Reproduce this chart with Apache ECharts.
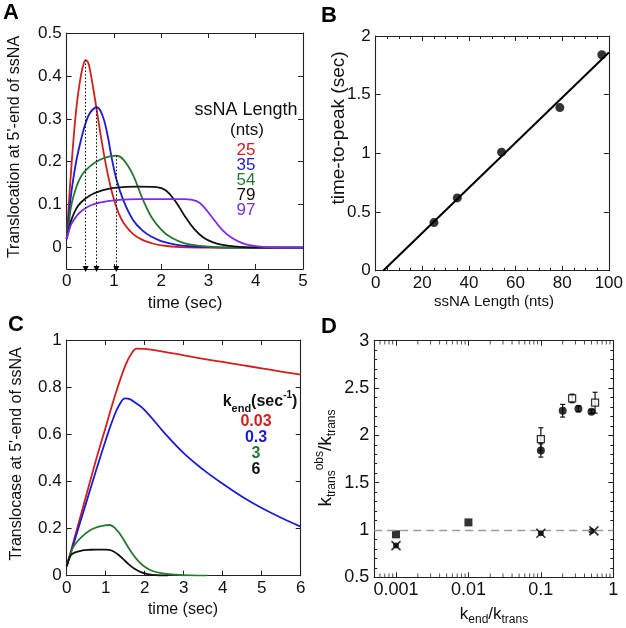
<!DOCTYPE html>
<html><head><meta charset="utf-8">
<script src="https://cdn.jsdelivr.net/npm/echarts@6/dist/echarts.min.js"></script>
<style>html,body{margin:0;padding:0;background:#fff}#c{width:626px;height:628px}</style>
</head><body><div id="c"></div>
<script>
// ---------------- Panel A data ----------------
const aLengths = ['25', '35', '54', '79', '97'];
const a25 = [[0,0.02],[0.05,0.11],[0.1,0.19],[0.15,0.26],[0.2,0.32],[0.25,0.365],[0.3,0.40],[0.35,0.425],[0.4,0.437],[0.45,0.432],[0.5,0.41],[0.6,0.345],[0.7,0.275],[0.8,0.21],[0.9,0.155],[1.0,0.112],[1.1,0.08],[1.2,0.058],[1.4,0.032],[1.6,0.018],[1.8,0.01],[2.0,0.005],[2.4,0.001],[3,0],[5,0]];
const a35 = [[0,0.02],[0.05,0.08],[0.1,0.13],[0.2,0.20],[0.3,0.25],[0.4,0.29],[0.5,0.315],[0.64,0.327],[0.75,0.31],[0.85,0.27],[0.95,0.21],[1.05,0.16],[1.2,0.11],[1.4,0.065],[1.6,0.04],[1.8,0.025],[2.0,0.015],[2.3,0.007],[2.6,0.003],[3,0.001],[3.5,0],[5,0]];
const a54 = [[0,0.02],[0.05,0.06],[0.1,0.10],[0.2,0.14],[0.3,0.165],[0.4,0.18],[0.6,0.198],[0.8,0.209],[1.05,0.214],[1.2,0.205],[1.4,0.17],[1.6,0.115],[1.8,0.07],[2.0,0.042],[2.2,0.024],[2.5,0.01],[3.0,0.002],[3.5,0],[5,0]];
const a79 = [[0,0.02],[0.05,0.045],[0.1,0.065],[0.2,0.09],[0.3,0.105],[0.5,0.122],[0.75,0.133],[1.0,0.139],[1.5,0.142],[1.9,0.141],[2.1,0.133],[2.3,0.108],[2.5,0.073],[2.7,0.043],[2.9,0.023],[3.1,0.012],[3.3,0.006],[3.6,0.002],[4,0],[5,0]];
const a97 = [[0,0.02],[0.05,0.04],[0.1,0.055],[0.2,0.072],[0.3,0.084],[0.5,0.098],[0.75,0.106],[1.0,0.110],[1.5,0.113],[2.0,0.113],[2.5,0.113],[2.75,0.108],[2.9,0.095],[3.1,0.067],[3.3,0.04],[3.5,0.022],[3.7,0.011],[3.9,0.005],[4.2,0.001],[4.5,0],[5,0]];
const aPeakT = [0.40, 0.63, 1.05];
const aPeakV = [0.437, 0.327, 0.214];

// ---------------- Panel B data ----------------
const bLength = [25, 35, 54, 79, 97];
const bPeak = [0.41, 0.62, 1.01, 1.39, 1.84];
const bFitX = [3.2, 100];
const bFitY = [0, 1.86];

// ---------------- Panel C data ----------------
const cKend = ['0.03', '0.3', '3', '6'];
const c003 = [[0,0.04],[0.25,0.19],[0.5,0.34],[0.75,0.49],[1.0,0.63],[1.25,0.77],[1.5,0.89],[1.65,0.94],[1.8,0.963],[2.0,0.962],[2.5,0.95],[3,0.935],[3.5,0.92],[4,0.907],[4.5,0.893],[5,0.88],[5.5,0.866],[6,0.853]];
const c03 = [[0,0.04],[0.25,0.175],[0.5,0.31],[0.75,0.445],[1.0,0.575],[1.2,0.67],[1.35,0.725],[1.5,0.752],[1.6,0.75],[1.75,0.735],[2.0,0.703],[2.5,0.607],[3,0.52],[3.5,0.45],[4,0.39],[4.5,0.335],[5,0.287],[5.5,0.246],[6,0.208]];
const c3 = [[0,0.04],[0.1,0.095],[0.2,0.13],[0.4,0.167],[0.6,0.193],[0.8,0.207],[1.0,0.214],[1.1,0.215],[1.25,0.2],[1.4,0.168],[1.55,0.128],[1.7,0.09],[1.85,0.06],[2.0,0.038],[2.2,0.02],[2.5,0.009],[2.8,0.004],[3.2,0.001],[3.6,0]];
const c6 = [[0,0.04],[0.1,0.085],[0.2,0.098],[0.4,0.107],[0.6,0.11],[0.8,0.111],[1.0,0.111],[1.15,0.107],[1.3,0.092],[1.45,0.07],[1.6,0.047],[1.75,0.028],[1.9,0.015],[2.1,0.006],[2.3,0.002],[2.6,0]];

// ---------------- Panel D data ----------------
const dCircX = [0.1, 0.2, 0.33, 0.5];
const dCircY = [1.84, 2.26, 2.28, 2.25];
const dCircErr = [0.07, 0.067, 0.03, 0.02];
const dOpenX = [0.1, 0.27, 0.56];
const dOpenY = [1.96, 2.39, 2.345];
const dOpenErr = [0.12, 0.045, 0.11];
const dFillSqX = [0.001, 0.01];
const dFillSqY = [0.954, 1.08];
const dCrossX = [0.001, 0.1, 0.54];
const dCrossY = [0.835, 0.965, 0.99];
const dDotX = [0.001, 0.1, 0.5];
const dDotY = [0.835, 0.965, 0.99];
const dRef = 1;

// ---------------- styling ----------------
const FONT = "'Liberation Sans', Arial, Helvetica, sans-serif";
const AX = '#222222';
const RED = '#d0201e', BLUE = '#1b1bd2', GREEN = '#25782e', BLACK = '#111111', PURPLE = '#7c2de3';

function axPair(kind, gi, cfg) {
  const base = {
    gridIndex: gi, type: cfg.type || 'value', min: cfg.min, max: cfg.max,
    splitNumber: cfg.split || 5,
    splitLine: {show: false},
    axisLine: {show: true, onZero: false, lineStyle: {color: AX, width: 1.1}},
    axisTick: {show: true, inside: true, length: 5, lineStyle: {color: AX, width: 1}},
    minorTick: cfg.minor ? {show: true, splitNumber: cfg.minor, length: 3, lineStyle: {color: AX, width: 1}} : {show: false},
    minorSplitLine: {show: false}
  };
  if (cfg.interval) base.interval = cfg.interval;
  if (cfg.type === 'log') base.logBase = 10;
  const lab = {show: true, fontSize: cfg.fs, color: '#111', fontFamily: FONT, margin: cfg.margin,
    showMinLabel: cfg.showMin !== false, showMaxLabel: true};
  if (cfg.fmt) lab.formatter = cfg.fmt;
  const p = kind === 'x' ? ['bottom', 'top'] : ['left', 'right'];
  return [
    Object.assign({}, base, {position: p[0], axisLabel: lab}),
    Object.assign({}, base, {position: p[1], axisLabel: {show: false}})
  ];
}

const xAxis = [].concat(
  axPair('x', 0, {min: 0, max: 5, interval: 1, fs: 17, margin: 4}),
  axPair('x', 1, {min: 0, max: 100, interval: 20, fs: 17, margin: 4, minor: 4}),
  axPair('x', 2, {min: 0, max: 6, interval: 1, fs: 17, margin: 4}),
  axPair('x', 3, {type: 'log', min: 0.0005, max: 1, fs: 18, margin: 4, showMin: false,
    fmt: v => (v >= 0.00099 ? String(parseFloat(Number(v).toPrecision(2))) : '')})
);
const yAxis = [].concat(
  axPair('y', 0, {min: -0.05, max: 0.5, split: 5, fs: 17, margin: 5, showMin: false}),
  axPair('y', 1, {min: 0, max: 2, interval: 0.5, fs: 17, margin: 5}),
  axPair('y', 2, {min: 0, max: 1, interval: 0.2, fs: 17, margin: 5}),
  axPair('y', 3, {min: 0.5, max: 3, interval: 0.5, fs: 18, margin: 5, minor: 5})
);

function curve(data, color, gi) {
  return {type: 'line', xAxisIndex: gi * 2, yAxisIndex: gi * 2, data: data, showSymbol: false,
    smooth: 0.4, lineStyle: {color: color, width: 1.8}, silent: true, z: 3};
}

// log-axis minor tick positions for panel D (2..9 x 10^k)
const dMinorX = [];
for (let e = -4; e <= -1; e++) {
  for (let m = 2; m <= 9; m++) {
    const v = m * Math.pow(10, e);
    if (v > 0.0005 && v < 1) dMinorX.push(v);
  }
}
function minorTickSeries(yVal) {
  return {type: 'scatter', xAxisIndex: 6, yAxisIndex: 6, silent: true, z: 10,
    data: dMinorX.map(v => [v, yVal]), symbol: 'rect', symbolSize: [1, 4],
    itemStyle: {color: AX}};
}

const errData = dCircX.map((x, i) => [x, dCircY[i] - dCircErr[i], dCircY[i] + dCircErr[i]])
  .concat(dOpenX.map((x, i) => [x, dOpenY[i] - dOpenErr[i], dOpenY[i] + dOpenErr[i]]));

const series = [
  curve(a25, RED, 0), curve(a35, BLUE, 0), curve(a54, GREEN, 0), curve(a79, BLACK, 0), curve(a97, PURPLE, 0),
  {type: 'line', xAxisIndex: 0, yAxisIndex: 0, data: [], silent: true,
    markLine: {silent: true, symbol: ['none', 'triangle'], symbolSize: 6, animation: false,
      label: {show: false}, lineStyle: {type: [1.5, 2], color: '#000', width: 1},
      data: aPeakT.map((t, i) => [{coord: [t, aPeakV[i]]}, {coord: [t, -0.05]}])}},
  {type: 'line', xAxisIndex: 2, yAxisIndex: 2, data: bFitX.map((x, i) => [x, bFitY[i]]), showSymbol: false,
    lineStyle: {color: '#000', width: 2}, silent: true},
  {type: 'scatter', xAxisIndex: 2, yAxisIndex: 2, data: bLength.map((x, i) => [x, bPeak[i]]),
    symbol: 'circle', symbolSize: 9, itemStyle: {color: '#000'}, silent: true, z: 4},
  curve(c003, RED, 2), curve(c03, BLUE, 2), curve(c3, GREEN, 2), curve(c6, BLACK, 2),
  minorTickSeries(0.52), minorTickSeries(2.98),
  {type: 'line', xAxisIndex: 6, yAxisIndex: 6, data: [], silent: true,
    markLine: {silent: true, symbol: 'none', animation: false, label: {show: false},
      lineStyle: {type: [8, 5], color: '#9a9a9a', width: 1.3}, data: [{yAxis: dRef}]}},
  {type: 'custom', xAxisIndex: 6, yAxisIndex: 6, data: errData, silent: true, z: 2,
    encode: {x: 0, y: [1, 2]},
    renderItem: function (params, api) {
      const x = api.value(0);
      const p1 = api.coord([x, api.value(1)]), p2 = api.coord([x, api.value(2)]);
      const w = 2.5, st = {stroke: '#111', lineWidth: 1.2};
      return {type: 'group', children: [
        {type: 'line', shape: {x1: p1[0], y1: p1[1], x2: p2[0], y2: p2[1]}, style: st},
        {type: 'line', shape: {x1: p1[0] - w, y1: p1[1], x2: p1[0] + w, y2: p1[1]}, style: st},
        {type: 'line', shape: {x1: p2[0] - w, y1: p2[1], x2: p2[0] + w, y2: p2[1]}, style: st}]};
    }},
  {type: 'scatter', xAxisIndex: 6, yAxisIndex: 6, data: dCircX.map((x, i) => [x, dCircY[i]]),
    symbol: 'circle', symbolSize: 8, itemStyle: {color: '#000'}, silent: true, z: 4},
  {type: 'scatter', xAxisIndex: 6, yAxisIndex: 6, data: dOpenX.map((x, i) => [x, dOpenY[i]]),
    symbol: 'rect', symbolSize: 7, itemStyle: {color: '#fff', borderColor: '#000', borderWidth: 1.3}, silent: true, z: 5},
  {type: 'scatter', xAxisIndex: 6, yAxisIndex: 6, data: dFillSqX.map((x, i) => [x, dFillSqY[i]]),
    symbol: 'rect', symbolSize: 8, itemStyle: {color: '#000'}, silent: true, z: 4},
  {type: 'scatter', xAxisIndex: 6, yAxisIndex: 6, data: dDotX.map((x, i) => [x, dDotY[i]]),
    symbol: 'circle', symbolSize: 6, itemStyle: {color: '#000'}, silent: true, z: 4},
  {type: 'scatter', xAxisIndex: 6, yAxisIndex: 6, data: dCrossX.map((x, i) => [x, dCrossY[i]]),
    symbol: 'path://M0,0L10,10M10,0L0,10', symbolSize: 9,
    itemStyle: {color: 'none', borderColor: '#000', borderWidth: 1.6}, silent: true, z: 5}
];

function T(x, y, text, o) {
  o = o || {};
  const st = {text: text, fill: o.color || '#111',
    font: (o.weight || 'normal') + ' ' + (o.size || 16) + 'px ' + FONT,
    align: 'center', verticalAlign: 'middle'};
  if (o.rich) st.rich = o.rich;
  return {type: 'text', x: x, y: y, rotation: o.rot || 0, silent: true, z: 100, style: st};
}
const R = (size, weight, va) => ({fontSize: size, fontFamily: FONT, fontWeight: weight || 'normal', fill: '#111',
  verticalAlign: va || 'middle', lineHeight: va ? undefined : 24});
const legA = [RED, BLUE, GREEN, BLACK, PURPLE];
const legAY = [150, 165, 180, 195, 210];
const legC = [RED, BLUE, GREEN, BLACK];
const legCY = [422, 438, 454, 470];

const graphic = [
  T(11, 13, 'A', {size: 22, weight: 'bold', color: '#000'}),
  T(329, 16, 'B', {size: 22, weight: 'bold', color: '#000'}),
  T(16, 325, 'C', {size: 22, weight: 'bold', color: '#000'}),
  T(329, 327, 'D', {size: 22, weight: 'bold', color: '#000'}),
  T(246, 110, 'ssNA Length', {size: 18}),
  T(247, 130, '(nts)', {size: 17}),
  T(15, 147, "Translocation at 5'-end of ssNA", {size: 16, rot: Math.PI / 2}),
  T(185, 303, 'time (sec)', {size: 17}),
  T(339, 128, 'time-to-peak (sec)', {size: 19, rot: Math.PI / 2}),
  T(494, 302, 'ssNA Length (nts)', {size: 15}),
  T(17, 454, "Translocase at 5'-end of ssNA", {size: 16, rot: Math.PI / 2}),
  T(183, 610, 'time (sec)', {size: 16}),
  T(260, 402, '{b|k}{bs|end}{b|(sec}{bp|-1}{b|)}', {rich: {
    b: R(16, 'bold'), bs: R(11, 'bold', 'bottom'), bp: R(10, 'bold', 'top')}}),
  T(326, 458, '{k|k}{s|trans}{p|obs}{k|/k}{s|trans}', {rot: Math.PI / 2, rich: {
    k: R(19), s: R(12, 'normal', 'bottom'), p: R(12, 'normal', 'top')}}),
  T(494, 614, '{k|k}{s|end}{k|/k}{s|trans}', {rich: {
    k: R(17), s: R(12, 'normal', 'bottom')}})
];
aLengths.forEach((s, i) => graphic.push(T(246, legAY[i], s, {size: 17, color: legA[i]})));
cKend.forEach((s, i) => graphic.push(T(256, legCY[i], s, {size: 16, weight: 'bold', color: legC[i]})));

const chart = echarts.init(document.getElementById('c'), null, {renderer: 'canvas'});
chart.setOption({
  animation: false,
  backgroundColor: '#fff',
  textStyle: {fontFamily: FONT},
  grid: [
    {left: 66.7, top: 33, width: 236.3, height: 236},
    {left: 375.7, top: 36, width: 236.6, height: 234.7},
    {left: 66.7, top: 340, width: 234, height: 235.7},
    {left: 374.2, top: 340.7, width: 239.1, height: 236.6}
  ],
  xAxis: xAxis,
  yAxis: yAxis,
  series: series,
  graphic: graphic
});
</script>
</body></html>
